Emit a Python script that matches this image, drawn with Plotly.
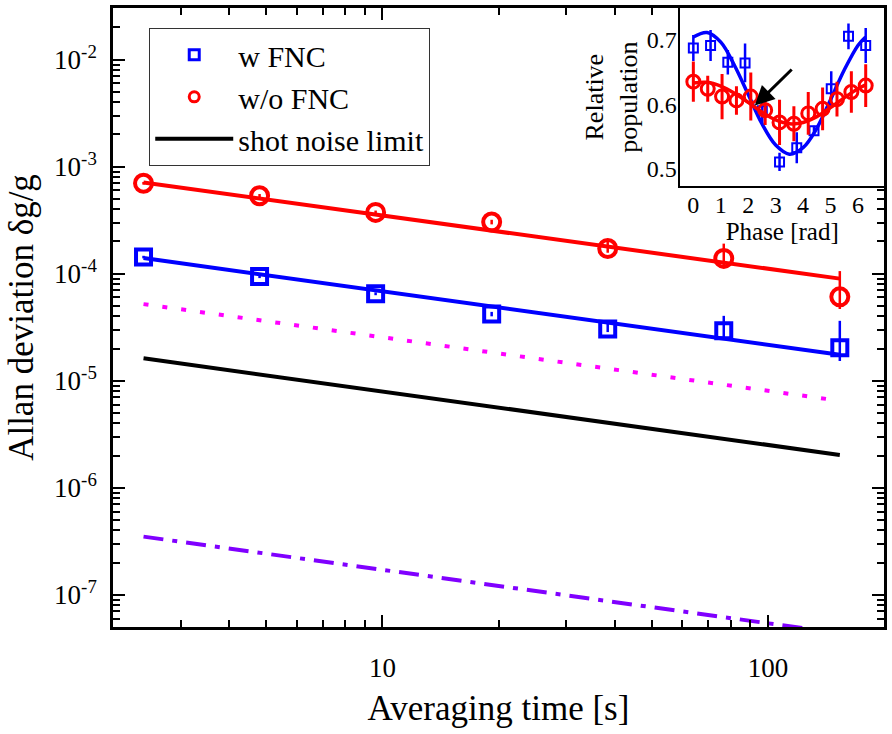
import math
import plotly.graph_objects as go

# ---------------- main panel data ----------------
tau = [2.4, 4.8, 9.6, 19.2, 38.4, 76.8, 153.6]
adev_w_fnc = [1.43e-4, 9.4e-5, 6.5e-5, 4.2e-5, 3.05e-5, 2.94e-5, 2.03e-5]
adev_w_fnc_up = [4e-6, 3e-6, 2e-6, 2e-6, 6e-6, 1.1e-5, 1.6e-5]
adev_w_fnc_dn = [4e-6, 3e-6, 2e-6, 2e-6, 2e-6, 4.6e-6, 5e-6]
adev_wo_fnc = [7.0e-4, 5.35e-4, 3.74e-4, 3.04e-4, 1.72e-4, 1.39e-4, 6.08e-5]
adev_wo_fnc_up = [2e-5, 2e-5, 1.5e-5, 1.5e-5, 3.7e-5, 5.2e-5, 4.5e-5]
adev_wo_fnc_dn = [2e-5, 2e-5, 1.5e-5, 1.5e-5, 1.5e-5, 2.4e-5, 1.4e-5]

fit_tau = [2.4, 153.6]
fit_wo_fnc = [7.1e-4, 9.0e-5]
fit_w_fnc = [1.4e-4, 1.75e-5]
dotted_limit = [5.2e-5, 6.5e-6]
shot_noise = [1.62e-5, 2.03e-6]
dashdot_limit = [3.5e-7, 4.38e-8]

x_tickvals = [10, 100]
x_ticktext = ["10", "100"]
x_minor = [3, 4, 5, 6, 7, 8, 9, 20, 30, 40, 50, 60, 70, 80, 90]
y_tickvals = [1e-7, 1e-6, 1e-5, 1e-4, 1e-3, 1e-2]
y_ticktext = ["10<sup>-7</sup>", "10<sup>-6</sup>", "10<sup>-5</sup>",
              "10<sup>-4</sup>", "10<sup>-3</sup>", "10<sup>-2</sup>"]
y_minor = [m * 10.0 ** e for e in range(-8, -1) for m in range(2, 10)]

# ---------------- inset data ----------------
phase_w = [0.0, 0.628, 1.257, 1.885, 2.513, 3.142, 3.770, 4.398, 5.027, 5.655, 6.283]
pop_w = [0.687, 0.691, 0.665, 0.664, 0.590, 0.511, 0.533, 0.559, 0.624, 0.705, 0.691]
pop_w_err = [0.020, 0.024, 0.019, 0.030, 0.020, 0.014, 0.024, 0.008, 0.027, 0.020, 0.027]
phase_wo = [0.0, 0.524, 1.047, 1.571, 2.094, 2.618, 3.142, 3.665, 4.189, 4.712, 5.236, 5.760, 6.283]
pop_wo = [0.635, 0.624, 0.612, 0.606, 0.612, 0.591, 0.572, 0.570, 0.586, 0.593, 0.608, 0.619, 0.629]
pop_wo_err = [0.031, 0.020, 0.035, 0.022, 0.037, 0.023, 0.035, 0.027, 0.033, 0.033, 0.027, 0.032, 0.033]

fit_phase = [0.0, 0.5, 1.0, 1.5, 2.0, 2.5, 3.0, 3.5, 4.0, 4.5, 5.0, 5.5, 6.0, 6.28]
fit_pop_w = [0.704, 0.711, 0.696, 0.660, 0.615, 0.570, 0.537, 0.523, 0.533, 0.563, 0.607, 0.653, 0.691, 0.704]
fit_pop_wo = [0.633, 0.634, 0.628, 0.617, 0.603, 0.588, 0.576, 0.570, 0.572, 0.581, 0.595, 0.610, 0.624, 0.630]

inset_xticks = [0, 1, 2, 3, 4, 5, 6]
inset_yticks = [0.5, 0.6, 0.7]

BLUE = "#0000FF"
RED = "#FF0000"
FONT = "Liberation Serif"

fig = go.Figure()

# legend-only entries
fig.add_trace(go.Scatter(x=[None], y=[None], mode="markers", name="w FNC",
                         marker=dict(symbol="square-open", size=10, color=BLUE,
                                     line=dict(width=3, color=BLUE))))
fig.add_trace(go.Scatter(x=[None], y=[None], mode="markers", name="w/o FNC",
                         marker=dict(symbol="circle-open", size=10, color=RED,
                                     line=dict(width=3, color=RED))))
fig.add_trace(go.Scatter(x=[None], y=[None], mode="lines", name="shot noise limit",
                         line=dict(color="black", width=4)))

# main fits and limits
fig.add_trace(go.Scatter(x=fit_tau, y=fit_wo_fnc, mode="lines", showlegend=False,
                         line=dict(color=RED, width=4)))
fig.add_trace(go.Scatter(x=fit_tau, y=fit_w_fnc, mode="lines", showlegend=False,
                         line=dict(color=BLUE, width=4)))
fig.add_trace(go.Scatter(x=fit_tau, y=dotted_limit, mode="lines", showlegend=False,
                         line=dict(color="#FF00FF", width=4, dash="5px,14px")))
fig.add_trace(go.Scatter(x=fit_tau, y=shot_noise, mode="lines", showlegend=False,
                         line=dict(color="black", width=4)))
fig.add_trace(go.Scatter(x=fit_tau, y=dashdot_limit, mode="lines", showlegend=False,
                         line=dict(color="#8000FF", width=4, dash="20px,9px,5px,9px")))

# main data
fig.add_trace(go.Scatter(x=tau, y=adev_w_fnc, mode="markers", showlegend=False,
                         marker=dict(symbol="square-open", size=15, color=BLUE,
                                     line=dict(width=4, color=BLUE)),
                         error_y=dict(type="data", array=adev_w_fnc_up,
                                      arrayminus=adev_w_fnc_dn, color=BLUE,
                                      thickness=2.5, width=0)))
fig.add_trace(go.Scatter(x=tau, y=adev_wo_fnc, mode="markers", showlegend=False,
                         marker=dict(symbol="circle-open", size=17, color=RED,
                                     line=dict(width=4, color=RED)),
                         error_y=dict(type="data", array=adev_wo_fnc_up,
                                      arrayminus=adev_wo_fnc_dn, color=RED,
                                      thickness=2.5, width=0)))

# inset
fig.add_trace(go.Scatter(x=phase_w, y=pop_w, mode="markers", showlegend=False,
                         xaxis="x2", yaxis="y2",
                         marker=dict(symbol="square-open", size=9, color=BLUE,
                                     line=dict(width=2, color=BLUE)),
                         error_y=dict(type="data", array=pop_w_err, color=BLUE,
                                      thickness=2.5, width=0)))
fig.add_trace(go.Scatter(x=fit_phase, y=fit_pop_w, mode="lines", showlegend=False,
                         xaxis="x2", yaxis="y2", line_shape="spline",
                         line=dict(color=BLUE, width=3.5)))
fig.add_trace(go.Scatter(x=phase_wo, y=pop_wo, mode="markers", showlegend=False,
                         xaxis="x2", yaxis="y2",
                         marker=dict(symbol="circle-open", size=13, color=RED,
                                     line=dict(width=3, color=RED)),
                         error_y=dict(type="data", array=pop_wo_err, color=RED,
                                      thickness=3, width=0)))
fig.add_trace(go.Scatter(x=fit_phase, y=fit_pop_wo, mode="lines", showlegend=False,
                         xaxis="x2", yaxis="y2", line_shape="spline",
                         line=dict(color=RED, width=3.5)))

fig.add_annotation(x=2.24, y=0.598, ax=3.64, ay=0.656, xref="x2", yref="y2",
                   axref="x2", ayref="y2", text="", showarrow=True,
                   arrowhead=2, arrowsize=1.3, arrowwidth=3, arrowcolor="black")

axis_common = dict(showline=True, linecolor="black", linewidth=2.5, mirror="allticks",
                   ticks="inside", ticklen=12, tickwidth=2, tickcolor="black",
                   showgrid=False, zeroline=False)

fig.update_layout(
    width=892, height=734,
    margin=dict(l=113, r=6, t=5, b=107),
    paper_bgcolor="white", plot_bgcolor="white",
    font=dict(family=FONT, color="black", size=27),
    showlegend=True,
    legend=dict(x=0.047, y=0.968, xanchor="left", yanchor="top",
                bgcolor="white", bordercolor="#333333", borderwidth=1,
                font=dict(family=FONT, size=30), itemwidth=78,
                tracegroupgap=0),
    xaxis=dict(type="log", range=[math.log10(2), math.log10(200)],
               tickvals=x_tickvals, ticktext=x_ticktext,
               ticklabelstandoff=15,
               minor=dict(ticks="inside", ticklen=7, tickwidth=2, tickcolor="black",
                          tickvals=x_minor),
               title=dict(text="Averaging time [s]", font=dict(size=35), standoff=14),
               **axis_common),
    yaxis=dict(type="log", range=[-7.3, -1.518],
               tickvals=y_tickvals, ticktext=y_ticktext,
               ticklabelstandoff=8,
               minor=dict(ticks="inside", ticklen=7, tickwidth=2, tickcolor="black",
                          tickvals=y_minor),
               title=dict(text="Allan deviation δg/g", font=dict(size=35), standoff=10),
               **axis_common),
    xaxis2=dict(domain=[0.736, 1.0], anchor="y2", range=[-0.47, 6.95],
                showline=True, linecolor="black", linewidth=2, mirror=False,
                ticks="", tickvals=inset_xticks, showgrid=False, zeroline=False,
                tickfont=dict(size=24), ticklabelstandoff=-4,
                title=dict(text="Phase [rad]", font=dict(size=25), standoff=2)),
    yaxis2=dict(domain=[0.712, 1.0], anchor="x2", range=[0.4734, 0.7488],
                showline=True, linecolor="black", linewidth=2, mirror=False,
                ticks="", tickvals=inset_yticks, showgrid=False, zeroline=False,
                tickfont=dict(size=24), ticklabelstandoff=-3,
                title=dict(text="Relative<br>population", font=dict(size=26), standoff=2)),
)

fig.write_html("out.html")
